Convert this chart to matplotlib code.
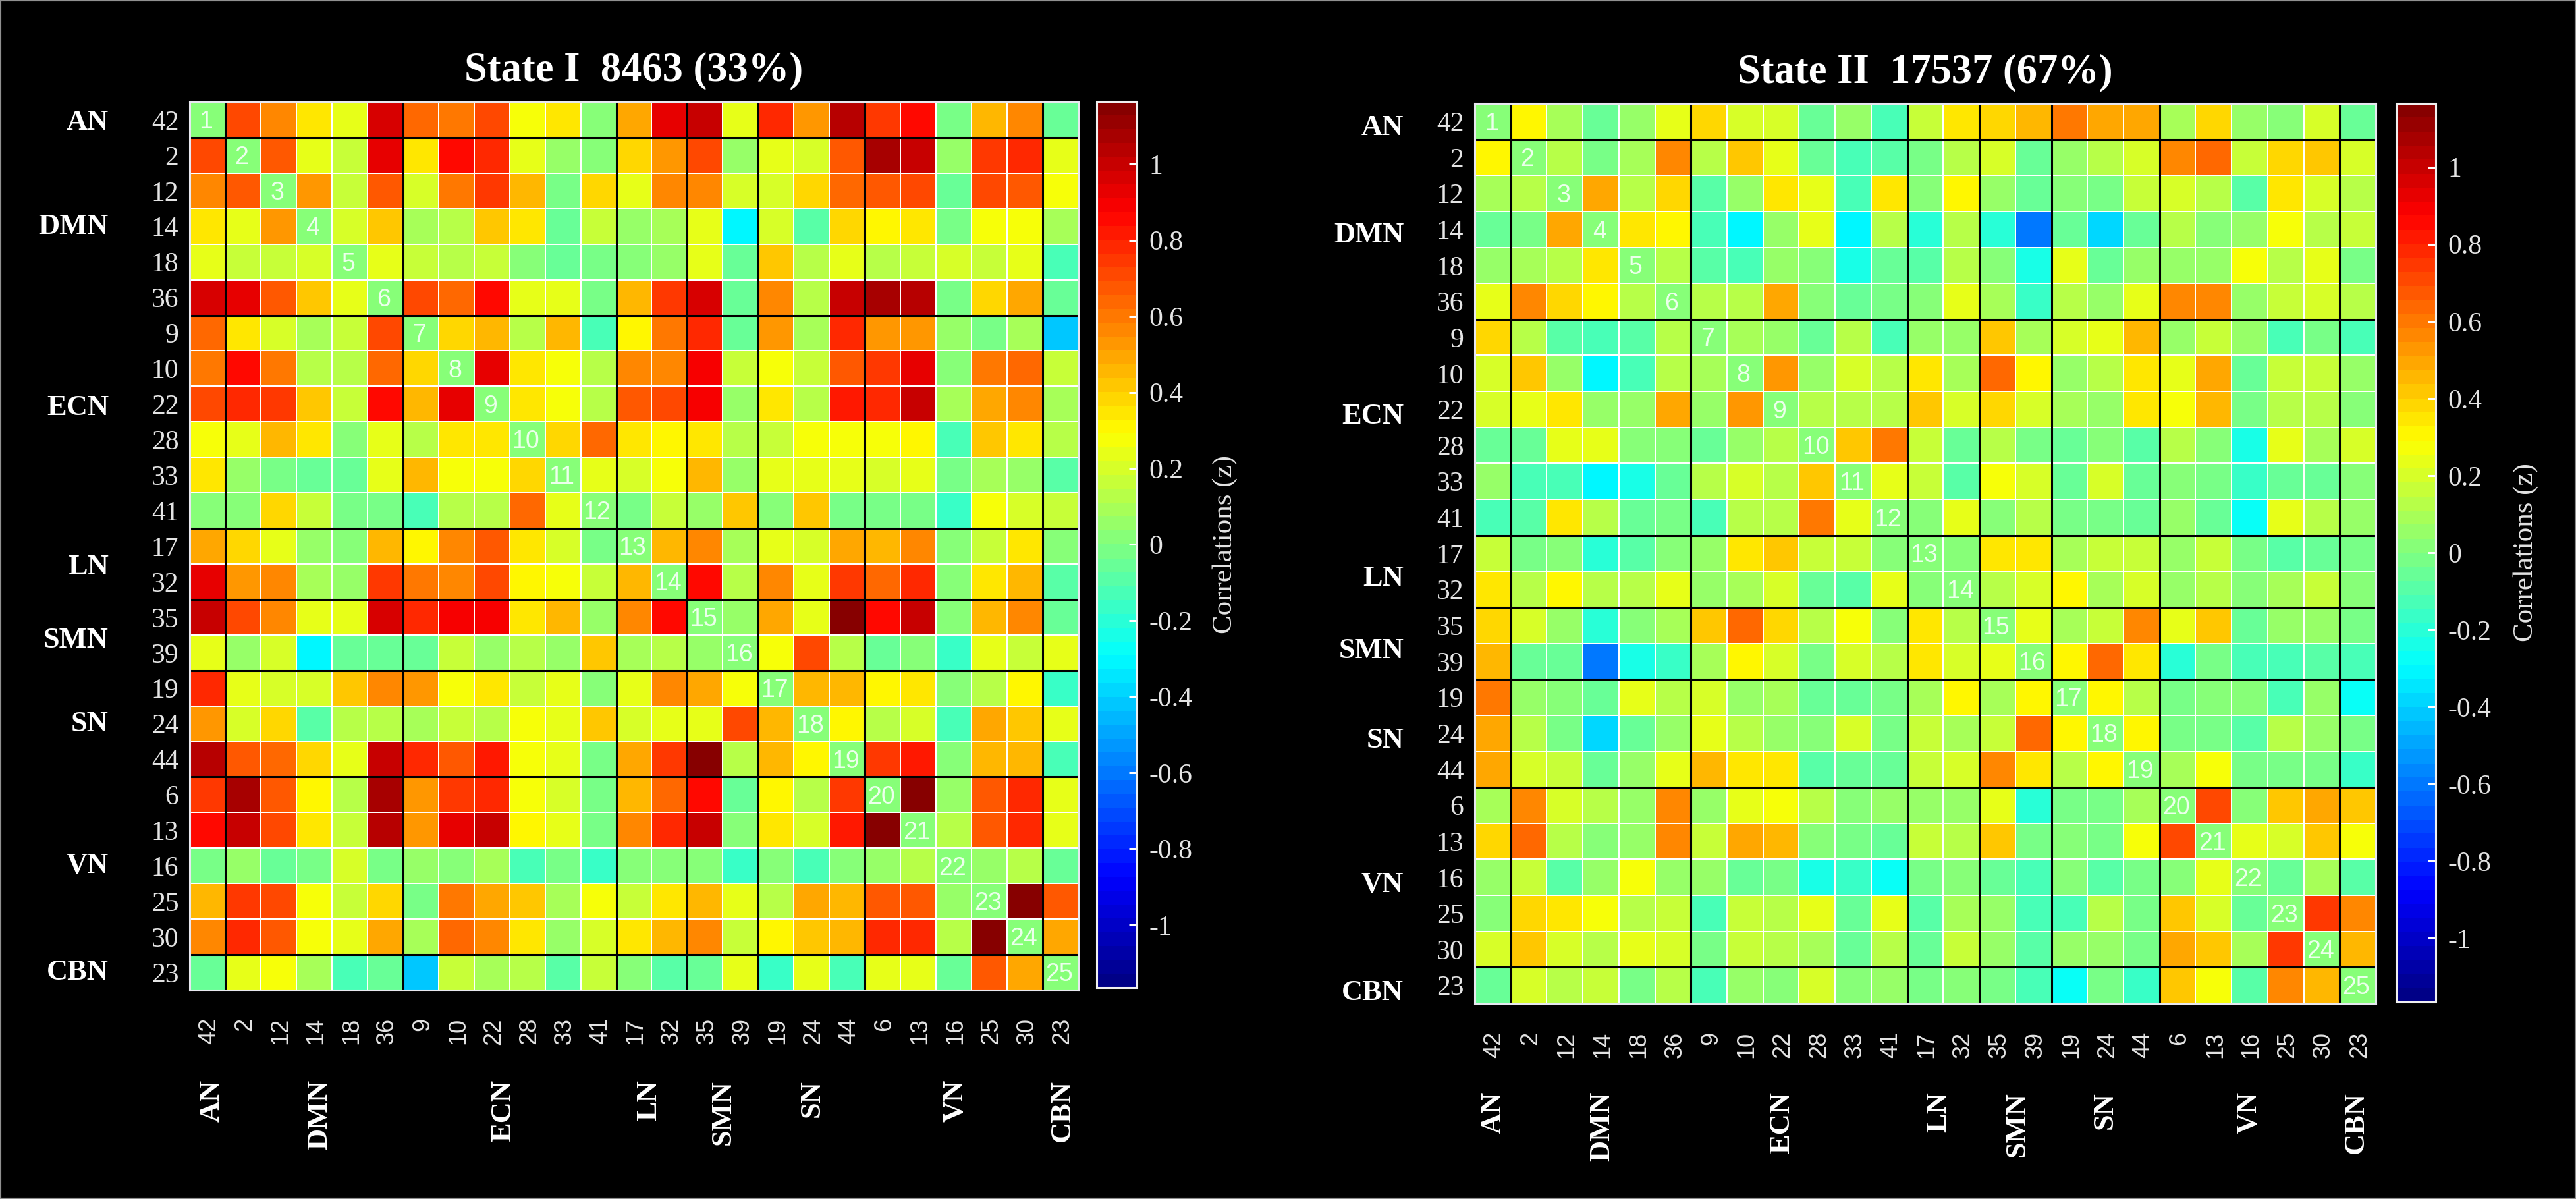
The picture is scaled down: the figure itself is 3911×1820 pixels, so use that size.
import matplotlib
matplotlib.use("Agg")
import matplotlib.pyplot as plt
import numpy as np
from matplotlib.colors import ListedColormap
from matplotlib.patches import Rectangle

W, H = 3911, 1820
plt.rcParams['font.family'] = ['Liberation Serif', 'DejaVu Serif']

components = [42, 2, 12, 14, 18, 36, 9, 10, 22, 28, 33, 41, 17, 32, 35, 39, 19, 24, 44, 6, 13, 16, 25, 30, 23]
networks = ["AN", "DMN", "ECN", "LN", "SMN", "SN", "VN", "CBN"]
block_edges = [1, 6, 12, 14, 16, 19, 24]
cbar_ticks = [-1, -0.8, -0.6, -0.4, -0.2, 0, 0.2, 0.4, 0.6, 0.8, 1]
cbar_labels = ["-1", "-0.8", "-0.6", "-0.4", "-0.2", "0", "0.2", "0.4", "0.6", "0.8", "1"]
diagonal_value = 0.02

# upper triangle of each matrix, one list per row
state1_upper = [
    [.70, .58, .34, .24, .98, .65, .60, .72, .29, .34, .01, .49, .93, 1.0, .24, .80, .52, 1.03, .74, .87, -.01, .46, .57, -.07],
    [.68, .24, .17, .94, .36, .87, .80, .24, .07, .02, .40, .52, .72, .05, .23, .19, .68, 1.07, 1.01, .05, .76, .78, .25],
    [.52, .18, .68, .19, .60, .74, .44, -.02, .38, .24, .57, .56, .19, .19, .38, .65, .68, .72, -.07, .72, .69, .29],
    [.20, .41, .09, .13, .41, .34, -.07, .16, .06, .10, .23, -.32, .20, -.10, .40, .31, .36, -.02, .27, .28, .10],
    [.25, .18, .11, .18, .00, -.04, -.02, .03, .07, .22, -.06, .43, .11, .23, .14, .16, .19, .15, .23, -.11],
    [.70, .63, .87, .22, .25, -.02, .46, .76, .95, -.07, .56, .13, 1.0, 1.09, 1.02, -.03, .40, .50, -.05],
    [.38, .46, .11, .45, -.12, .30, .60, .77, -.07, .54, .09, .80, .54, .51, .04, -.01, .10, -.42],
    [.92, .35, .28, .14, .56, .55, .89, .15, .26, .15, .67, .74, .92, .02, .61, .65, .15],
    [.34, .29, .13, .67, .70, .88, .07, .34, .13, .83, .80, 1.0, .10, .48, .56, .09],
    [.38, .64, .35, .30, .35, .12, .15, .28, .28, .27, .30, -.12, .41, .36, .13],
    [.22, .19, .28, .47, .07, .22, .22, .22, .19, .22, -.01, .09, .06, -.10],
    [-.01, .15, .05, .41, .02, .41, -.03, -.01, -.01, -.15, .28, .20, .17],
    [.45, .58, .10, .23, .19, .48, .46, .55, .02, .18, .33, .03],
    [.87, .12, .58, .22, .76, .65, .77, .03, .36, .46, -.10],
    [.04, .48, .22, 1.15, .87, 1.0, .02, .44, .55, -.05],
    [.26, .70, .11, -.07, .02, -.15, .23, .17, .23],
    [.45, .45, .31, .36, .03, .12, .30, -.17],
    [.30, .14, .19, -.11, .48, .42, .23],
    [.74, .83, .03, .44, .45, -.14],
    [1.16, .07, .68, .78, .25],
    [.14, .69, .80, .23],
    [.05, .14, -.07],
    [1.16, .67],
    [.48],
]

state2_upper = [
    [.32, .09, -.07, .04, .24, .39, .20, .20, -.05, .05, -.12, .18, .35, .38, .46, .60, .48, .49, .10, .38, .05, .02, .21, -.07],
    [.13, -.03, .10, .57, .14, .41, .25, -.07, -.12, -.08, -.01, .11, .20, -.05, .07, .11, .20, .58, .62, .15, .37, .41, .20],
    [.48, .14, .38, -.10, .05, .35, .25, -.12, .35, .02, .31, .05, -.07, .02, -.01, .18, .20, .14, -.10, .36, .19, .14],
    [.35, .30, -.13, -.32, .05, .23, -.32, .14, -.20, .14, -.20, -.60, -.07, -.38, -.06, .11, .00, .05, .27, .11, .17],
    [.12, -.08, -.12, .04, .00, -.22, -.05, -.10, .13, .02, -.22, .25, -.05, .05, .05, .05, .28, .13, .22, -.03],
    [.14, .14, .48, .02, -.07, -.03, .02, .22, .10, -.18, .14, .07, .24, .56, .55, .05, .16, .20, .13],
    [.10, .07, -.06, .14, -.13, .07, .07, .41, .10, .20, .24, .44, .07, .18, .05, -.13, -.03, -.12],
    [.52, .07, .19, .14, .34, .09, .63, .32, .04, .14, .33, .23, .48, -.05, .17, .17, .05],
    [.14, .14, .14, .41, .19, .39, .19, .10, .04, .34, .29, .44, -.03, .13, .13, .02],
    [.42, .60, .17, -.05, .14, -.03, -.05, .00, -.08, .13, .02, -.24, .23, .09, .20],
    [.25, .17, -.08, .28, .20, -.05, .20, -.06, .02, -.01, -.18, -.06, -.06, .02],
    [.00, .24, .02, .14, -.03, -.01, -.05, .04, -.07, -.27, .24, .11, .05],
    [.03, .35, .35, .08, .17, .18, .05, .15, -.01, -.08, -.05, -.01],
    [.13, .20, .30, .09, .20, .04, .14, .00, .10, .15, .01],
    [.25, .09, .18, .57, .25, .42, -.05, .07, .05, -.02],
    [.31, .62, .36, -.19, -.03, -.12, -.14, -.10, -.12],
    [.30, .14, -.02, .02, .01, -.12, .04, -.28],
    [.30, -.01, -.02, -.08, .13, .05, -.03],
    [.10, .26, -.03, -.01, -.02, -.17],
    [.70, .02, .41, .48, .43],
    [.25, .20, .41, .26],
    [-.05, .10, -.09],
    [.75, .57],
    [.44],
]

# where the network names sit, in cell units along the matrix side
state1_row_pos = [0.58, 3.5, 8.6, 13.09, 15.16, 17.5, 21.5, 24.5]
state1_col_pos = [0.63, 3.65, 8.83, 12.93, 15.0, 17.5, 21.55, 24.56]
state2_row_pos = [0.68, 3.66, 8.7, 13.2, 15.2, 17.7, 21.7, 24.7]
state2_col_pos = [0.53, 3.53, 8.52, 12.87, 15.06, 17.48, 21.48, 24.45]


def matlab_jet(n=64):
    x = (np.arange(n) + 0.5) / n
    r = np.clip(np.minimum(4 * x - 1.5, -4 * x + 4.5), 0, 1)
    g = np.clip(np.minimum(4 * x - 0.5, -4 * x + 3.5), 0, 1)
    b = np.clip(np.minimum(4 * x + 0.5, -4 * x + 2.5), 0, 1)
    return ListedColormap(np.column_stack([r, g, b]))


def to_matrix(upper):
    n = len(components)
    m = np.full((n, n), diagonal_value)
    for i, row in enumerate(upper):
        m[i, i + 1:] = row
        m[i + 1:, i] = row
    return m


def px_axes(fig, left, top, right, bottom):
    return fig.add_axes([left / W, 1 - bottom / H, (right - left) / W, (bottom - top) / H])


def draw_state(fig, upper, title, box, cbox, title_y, row_pos, col_pos, name_x, labels_x, cbar_label_x, numbers_y, names_y):
    n = len(components)
    ax = px_axes(fig, *box)
    mesh = ax.pcolormesh(to_matrix(upper), cmap=matlab_jet(), vmin=-1.165, vmax=1.165,
                         edgecolors='white', linewidth=1.3)
    ax.set_xlim(0, n)
    ax.set_ylim(n, 0)
    ax.hlines(block_edges, 0, n, color='black', linewidth=2.2)
    ax.vlines(block_edges, 0, n, color='black', linewidth=2.2)
    for spine in ax.spines.values():
        spine.set_color('#e8e8f0')
        spine.set_linewidth(2.2)

    for i in range(n):
        ax.text(i + 0.46, i + 0.56, str(i + 1), color='#ecffec', fontsize=27, family='Liberation Sans',
                ha='center', va='center')

    # row labels
    ax.set_yticks(np.arange(n) + 0.5)
    ax.set_yticklabels(components, color='#e4e4e4', fontsize=30)
    ax.set_xticks([])
    ax.tick_params(axis='y', length=0, pad=labels_x)
    for name, pos in zip(networks, row_pos):
        ax.text(name_x, pos, name, color='white', fontsize=32, fontweight='bold', ha='right', va='center')

    # column labels
    cell_h = (box[3] - box[1]) / n
    for i, comp in enumerate(components):
        ax.text(i + 0.55, n + (numbers_y - box[3]) / cell_h, str(comp), color='#e4e4e4', fontsize=26,
                family='Liberation Sans', rotation=90, ha='center', va='top')
    for name, pos in zip(networks, col_pos):
        ax.text(pos, n + (names_y - box[3]) / cell_h, name, color='white', fontsize=32, fontweight='bold',
                rotation=90, ha='center', va='top')

    fig.text((box[0] + box[2]) / 2 / W, 1 - title_y / H, title, color='white', fontsize=45, fontweight='bold',
             ha='center', va='center')

    cax = px_axes(fig, *cbox)
    cb = fig.colorbar(mesh, cax=cax, ticks=cbar_ticks)
    cb.ax.set_yticklabels(cbar_labels, color='#e4e4e4', fontsize=30)
    cb.ax.tick_params(axis='y', direction='in', color='white', length=9, width=2.2, pad=13)
    cb.outline.set_edgecolor('#f0f0f0')
    cb.outline.set_linewidth(2.2)
    zero_y = cbox[1] + (cbox[3] - cbox[1]) / 2
    fig.text(cbar_label_x / W, 1 - zero_y / H, "Correlations (z)", color='#e4e4e4', fontsize=31,
             rotation=90, ha='center', va='center')


fig = plt.figure(figsize=(W / 100, H / 100), dpi=100, facecolor='black')

draw_state(fig, state1_upper, "State I  8463 (33%)", (288, 155, 1637, 1503), (1665, 154, 1726, 1499), 107,
           state1_row_pos, state1_col_pos, -2.28, 12, 1860, 1545, 1639)
draw_state(fig, state2_upper, "State II  17537 (67%)", (2239, 157, 3607, 1523), (3638, 157, 3698, 1521), 110,
           state2_row_pos, state2_col_pos, -1.97, 12, 3835, 1566, 1657)

# thin grey edge round the whole picture
fig.add_artist(Rectangle((0, 0), 1, 1, transform=fig.transFigure, fill=False, edgecolor='#909090', linewidth=3))

fig.savefig("out.png", dpi=100, facecolor='black')
